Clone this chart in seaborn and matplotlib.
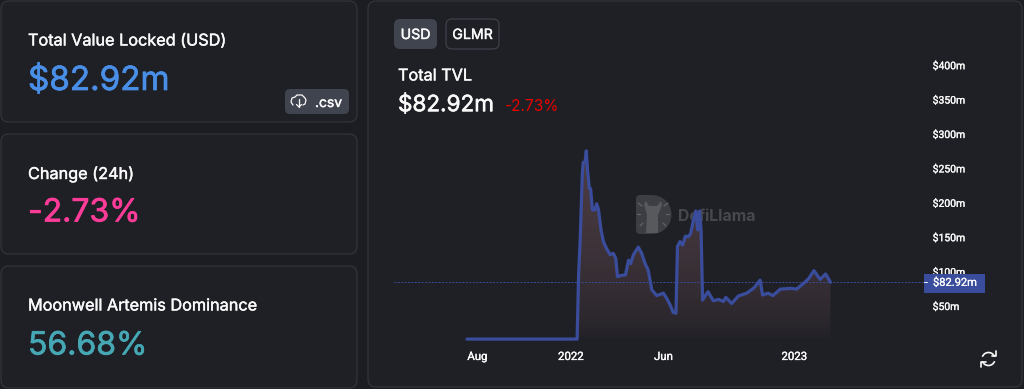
import numpy as np
import pandas as pd
import matplotlib.pyplot as plt
import matplotlib.dates as mdates
import matplotlib.patheffects as pe
from matplotlib.patches import FancyBboxPatch, Arc, Polygon, Rectangle, Wedge
from matplotlib.transforms import Affine2D
import seaborn as sns

days_from_2022 = [-170, 10, 12.5, 15, 18.5, 20, 23, 25, 27, 30, 32, 35, 39, 42, 45, 49, 53, 58, 64, 69, 73, 76,
                  83, 89, 94, 97.5, 102, 110, 115.5, 121, 126, 132, 140, 151, 156, 162, 167, 171.5, 174, 178,
                  182.5, 187, 192, 195.5, 200, 204, 207, 210, 212.5, 215, 222, 224, 232.5, 241, 249, 253, 262.5,
                  273.5, 287, 298, 303, 309, 313, 322, 330, 342, 360, 368.6, 377, 388, 397, 407, 416, 424]
tvl_m = [0.3, 0.3, 96, 144, 241, 257, 258, 274, 246, 219, 219, 188, 188, 197, 188, 159, 142, 132, 123, 125, 118, 91,
         93, 93.5, 115, 110, 123, 134, 125, 110, 101, 72, 63.5, 67, 60, 50, 39, 38, 135, 142,
         137, 150, 149, 154, 173, 186.5, 159, 186.5, 159, 57, 67, 69, 56, 58, 55, 61, 52,
         63, 67, 74, 79, 86, 64.4, 67, 63.5, 73, 74, 73, 79, 87.7, 99.8, 87, 95, 82.92]
x_tick_dates = ["2021-08-01", "2022-01-01", "2022-06-01", "2023-01-01"]
x_tick_labels = ["Aug", "2022", "Jun", "2023"]
y_ticks = [50, 100, 150, 200, 250, 300, 350, 400]
last_tvl = 82.92

BG = "#1c1d22"
CARD = "#1f2026"
BORDER = "#35373d"
LINE = "#3a4d9c"
TEXT = "#fafafa"

sns.set_theme(style="dark")
plt.rcParams['font.family'] = ['Inter', 'DejaVu Sans']

W, H = 1024, 389
fig = plt.figure(figsize=(W/100, H/100), dpi=100, facecolor=BG)

# page layer in pixel coords
bg = fig.add_axes([0, 0, 1, 1])
bg.set_xlim(0, W)
bg.set_ylim(H, 0)
bg.axis("off")


def card(x0, y0, x1, y1):
    bg.add_patch(FancyBboxPatch((x0, y0), x1-x0, y1-y0, boxstyle="round,pad=0,rounding_size=8",
                                fc=CARD, ec=BORDER, lw=0.8))


def heavy(t, w=0.3):
    # Inter only comes in regular here, thicken it a bit
    t.set_path_effects([pe.withStroke(linewidth=w, foreground=t.get_color())])
    return t


card(1, 1, 357, 122)
card(1, 134, 357, 254)
card(1, 266, 357, 388)
card(368, 1, 1022, 387)

heavy(bg.text(28, 41, "Total Value Locked (USD)", color=TEXT, fontsize=11.7, va="center"))
heavy(bg.text(28, 81.5, "$82.92m", color="#4a8fe7", fontsize=23.9, va="center"), 0.5)
heavy(bg.text(28, 174, "Change (24h)", color=TEXT, fontsize=11.7, va="center"))
heavy(bg.text(28, 213, "-2.73%", color="#fd3c99", fontsize=23, va="center"), 0.5)
heavy(bg.text(28, 306, "Moonwell Artemis Dominance", color=TEXT, fontsize=11.7, va="center"))
heavy(bg.text(28, 346, "56.68%", color="#46a8b4", fontsize=23, va="center"), 0.5)

# csv button
bg.add_patch(FancyBboxPatch((285, 89), 64, 25, boxstyle="round,pad=0,rounding_size=5", fc="#40444e", ec="none"))
heavy(bg.text(315, 103, ".csv", color=TEXT, fontsize=10, va="center"))
cloud_x = [293, 291, 292, 295, 297, 302, 305, 306, 305, 303]
cloud_y = [105, 102, 98, 97, 95, 95, 98, 100, 104, 105]
bg.plot(cloud_x, cloud_y, color=TEXT, lw=0.9)
bg.plot([299, 299], [99, 107], color=TEXT, lw=0.9)
bg.plot([296.5, 299, 301.5], [104.5, 107, 104.5], color=TEXT, lw=0.9)

# USD / GLMR buttons
bg.add_patch(FancyBboxPatch((394, 19), 43, 30, boxstyle="round,pad=0,rounding_size=6", fc="#40444e", ec="none"))
bg.add_patch(FancyBboxPatch((446, 19), 53, 30, boxstyle="round,pad=0,rounding_size=6", fc="none", ec="#40444e", lw=0.8))
heavy(bg.text(415.5, 35, "USD", color=TEXT, fontsize=10.2, va="center", ha="center"))
heavy(bg.text(472.5, 35, "GLMR", color=TEXT, fontsize=10.2, va="center", ha="center"))
heavy(bg.text(398, 76, "Total TVL", color=TEXT, fontsize=11.7, va="center"))
heavy(bg.text(398, 105, "$82.92m", color=TEXT, fontsize=16.2, va="center"), 0.4)
bg.text(505, 106, "-2.73%", color="#e80000", fontsize=11.1, va="center")

# watermark, under the chart
WM = "#3d3e43"
bg.add_patch(FancyBboxPatch((636, 195), 18, 39, boxstyle="round,pad=0,rounding_size=4", fc=WM, ec="none"))
bg.add_patch(Wedge((652, 214.5), 19.5, -90, 90, fc=WM, ec="none"))
bg.add_patch(Polygon([[644, 204], [646, 201], [649, 206], [657, 206], [661, 201], [662, 205], [658, 215],
                      [658, 233], [646, 233], [647, 215]], fc="#58595d", ec="none"))
for x_a, y_a, x_b, y_b in [(638, 203, 642, 206), (668, 203, 664, 206), (637, 214, 640, 214),
                           (669, 214, 666, 214), (640, 226, 643, 223), (666, 226, 663, 223)]:
    bg.plot([x_a, x_b], [y_a, y_b], color="#66676b", lw=0.8)
bg.text(678, 216, "DefiLlama", color="#47484d", fontsize=11.4, va="center", fontweight="bold")

# chart
AX_L, AX_R, AX_T, AX_B = 394, 925, 55, 345
PX_PER_M = 34.4/50
ZERO_PX = 339.3
PX_PER_DAY = 0.612
ax = fig.add_axes([AX_L/W, 1-AX_B/H, (AX_R-AX_L)/W, (AX_B-AX_T)/H])
ax.patch.set_alpha(0)

dates = pd.Timestamp("2022-01-01") + pd.to_timedelta(days_from_2022, unit="D")
df = pd.DataFrame({"date": dates, "tvl": tvl_m})

t0 = pd.Timestamp("2022-01-01") + pd.Timedelta(days=(AX_L-571)/PX_PER_DAY)
t1 = pd.Timestamp("2022-01-01") + pd.Timedelta(days=(AX_R-571)/PX_PER_DAY)

poly = ax.fill_between(df["date"], 0, df["tvl"], color="none", lw=0)
grad = np.zeros((256, 1, 4))
grad[..., :3] = (0.31, 0.24, 0.27)
grad[..., 3] = (np.linspace(1.0, 0.0, 256)**0.6)[:, None]
x0n, x1n = mdates.date2num(df["date"].iloc[0]), mdates.date2num(df["date"].iloc[-1])
im = ax.imshow(grad, extent=[x0n, x1n, 0, 280], aspect="auto", origin="upper", zorder=1)
im.set_clip_path(poly.get_paths()[0], transform=ax.transData)

sns.lineplot(data=df, x="date", y="tvl", ax=ax, color=LINE, lw=2.3, estimator=None, sort=False, zorder=3)
ax.axhline(last_tvl, color=LINE, lw=0.7, ls=(0, (2, 1.5)), zorder=2)

ax.set_xlim(t0, t1)
ax.set_ylim((ZERO_PX-AX_B)/PX_PER_M, (ZERO_PX-AX_T)/PX_PER_M)
ax.set(xlabel="", ylabel="")
ax.grid(False)
for s in ax.spines.values():
    s.set_visible(False)
ax.yaxis.tick_right()
ax.set_yticks(y_ticks, [f"${v}m" for v in y_ticks])
ax.set_xticks(pd.to_datetime(x_tick_dates), x_tick_labels)
ax.tick_params(axis="y", length=0, pad=5.5, labelcolor=TEXT)
ax.tick_params(axis="x", length=0, pad=5, labelcolor=TEXT)
for lab in ax.get_yticklabels():
    lab.set(family="Roboto", fontsize=7.5, va="center")
    lab.set_transform(lab.get_transform() + Affine2D().translate(0, -2))
    heavy(lab, 0.2)
for lab in ax.get_xticklabels():
    lab.set(family="Roboto", fontsize=8.2)
    heavy(lab, 0.25)

# last value tag, sits over the $100m label
y_tag = ZERO_PX - last_tvl*PX_PER_M
bg2 = fig.add_axes([0, 0, 1, 1], sharex=bg, sharey=bg)
bg2.axis("off")
bg2.add_patch(Rectangle((924, 273.5), 61, 19.5, fc=LINE, ec="none"))
bg2.plot([924, 927], [y_tag, y_tag], color=TEXT, lw=0.7)
heavy(bg2.text(933, y_tag+0.5, f"${last_tvl}m", color=TEXT, fontsize=8, va="center", family="Roboto"), 0.2)

# refresh icon
bg2.add_patch(Arc((988.5, 359), 13, 13, theta1=200, theta2=340, color=TEXT, lw=1.2))
bg2.add_patch(Arc((988.5, 359), 13, 13, theta1=20, theta2=160, color=TEXT, lw=1.2))
bg2.plot([996, 996, 991.5], [351, 356, 356], color=TEXT, lw=1.2)
bg2.plot([981, 981, 985.5], [367, 362, 362], color=TEXT, lw=1.2)

fig.savefig("out.png", dpi=100, facecolor=BG)
